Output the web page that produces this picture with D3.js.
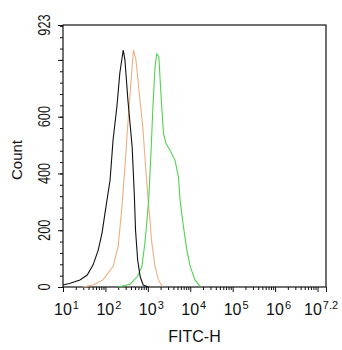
<!DOCTYPE html>
<html>
<head>
<meta charset="utf-8">
<script src="https://cdn.jsdelivr.net/npm/d3@7"></script>
<style>
  body { margin: 0; background: #fff; }
  svg { display: block; font-family: "Liberation Sans", Arial, sans-serif; }
</style>
</head>
<body>
<div id="chart"></div>
<script>
// histogram data: log10(FITC-H) and count
var blackLog   = [1.00, 1.17, 1.40, 1.57, 1.71, 1.83, 1.92, 1.99, 2.11, 2.18, 2.27, 2.34, 2.42, 2.46, 2.53, 2.63, 2.68, 2.71, 2.76, 2.82, 2.89, 3.01];
var blackCount = [7, 13, 25, 42, 78, 130, 190, 260, 377, 518, 635, 754, 835, 800, 659, 494, 330, 200, 95, 36, 7, 0];

var orangeLog   = [1.47, 1.71, 1.94, 2.18, 2.30, 2.39, 2.46, 2.53, 2.60, 2.66, 2.72, 2.79, 2.88, 2.96, 3.01, 3.05, 3.09, 3.17, 3.25, 3.34];
var orangeCount = [0, 7, 25, 72, 142, 283, 424, 577, 718, 835, 800, 694, 565, 400, 300, 236, 160, 72, 25, 2];

var greenLog   = [2.30, 2.58, 2.75, 2.86, 2.93, 2.98, 3.02, 3.07, 3.12, 3.17, 3.21, 3.26, 3.29, 3.33, 3.37, 3.43, 3.52, 3.64, 3.72, 3.76, 3.84, 3.92, 4.00, 4.11, 4.23];
var greenCount = [0, 10, 36, 72, 155, 236, 306, 459, 635, 776, 821, 811, 729, 630, 540, 505, 483, 447, 389, 306, 212, 130, 72, 25, 2];

var yLabels = [0, 200, 400, 600, 923];
var xLabelExp = ["1", "2", "3", "4", "5", "6", "7.2"];

var margin = { top: 25, right: 16, bottom: 63, left: 63 },
    width = 342 - margin.left - margin.right,
    height = 350 - margin.top - margin.bottom;

var svg = d3.select("#chart")
    .append("svg")
    .attr("width", 342)
    .attr("height", 350)
    .append("g")
    .attr("transform", "translate(" + margin.left + "," + margin.top + ")");

var x = d3.scaleLog()
    .domain([10, Math.pow(10, 7.2)])
    .range([0, width]);

var y = d3.scaleLinear()
    .domain([0, 923])
    .range([height, 0]);

// minor x ticks 2..9 per decade
var minorX = [];
for (var e = 1; e < 7.2; e++) {
    for (var k = 2; k <= 9; k++) {
        if (Math.log10(k) + e <= 7.2) minorX.push(k * Math.pow(10, e));
    }
}
var majorX = [1, 2, 3, 4, 5, 6, 7].map(function (d) { return Math.pow(10, d); }).concat([Math.pow(10, 7.2)]);

svg.append("g")
    .attr("transform", "translate(0," + height + ")")
    .call(d3.axisBottom(x).tickValues(minorX).tickSize(3).tickFormat(""))
    .call(function (g) { g.select(".domain").remove(); });

svg.append("g")
    .attr("transform", "translate(0," + height + ")")
    .call(d3.axisBottom(x).tickValues(majorX).tickSize(5).tickFormat(""))
    .call(function (g) { g.select(".domain").remove(); });

// x tick labels 10^n (last one pulled left so it fits)
xLabelExp.forEach(function (ex) {
    var px = x(Math.pow(10, +ex));
    var shift = ex === "7.2" ? 22 : 9;
    var t = svg.append("text")
        .attr("x", px - shift)
        .attr("y", height + 28)
        .attr("font-size", 16)
        .attr("fill", "#111");
    t.append("tspan").text("10");
    t.append("tspan").attr("dx", 1).attr("dy", -6).attr("font-size", 11).text(ex);
});

// y ticks: major every 200, minor every 40
var minorY = d3.range(40, 923, 40);
svg.append("g")
    .call(d3.axisLeft(y).tickValues(minorY).tickSize(3).tickFormat(""))
    .call(function (g) { g.select(".domain").remove(); });
svg.append("g")
    .call(d3.axisLeft(y).tickValues([0, 200, 400, 600, 800, 923]).tickSize(5).tickFormat(""))
    .call(function (g) { g.select(".domain").remove(); });

yLabels.forEach(function (v) {
    svg.append("text")
        .attr("transform", "translate(-13," + y(v) + ") rotate(-90) scale(0.8,1)")
        .attr("text-anchor", "middle")
        .attr("font-size", 16)
        .attr("fill", "#111")
        .text(v);
});

svg.selectAll(".tick line").attr("stroke", "#111");

// frame
svg.append("rect")
    .attr("width", width)
    .attr("height", height)
    .attr("fill", "none")
    .attr("stroke", "#111")
    .attr("stroke-width", 1.2);

// histograms
var line = d3.line()
    .x(function (d) { return x(Math.pow(10, d[0])); })
    .y(function (d) { return y(d[1]); });

function drawCurve(logs, counts, color) {
    svg.append("path")
        .datum(d3.zip(logs, counts))
        .attr("fill", "none")
        .attr("stroke", color)
        .attr("stroke-width", 1.1)
        .attr("d", line);
}
drawCurve(orangeLog, orangeCount, "#eeaf82");
drawCurve(greenLog, greenCount, "#4fd34f");
drawCurve(blackLog, blackCount, "#111");

// axis titles
svg.append("text")
    .attr("x", width / 2)
    .attr("y", height + 55)
    .attr("text-anchor", "middle")
    .attr("font-size", 16)
    .attr("fill", "#111")
    .text("FITC-H");

svg.append("text")
    .attr("transform", "translate(-41," + (height / 2 + 4) + ") rotate(-90)")
    .attr("text-anchor", "middle")
    .attr("font-size", 15)
    .attr("fill", "#111")
    .text("Count");
</script>
</body>
</html>
